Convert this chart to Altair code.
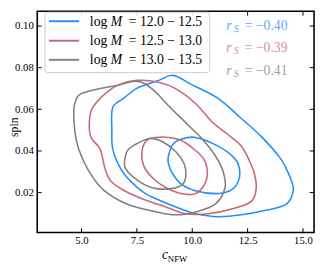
import altair as alt
import pandas as pd

# ---------------- data ----------------
group_labels = ["12.0 − 12.5", "12.5 − 13.0", "13.0 − 13.5"]
group_colors = ["#1e90ff", "#cc6677", "#808080"]
rs_values = ["= −0.40", "= −0.39", "= −0.41"]

x_ticks = [5.0, 7.5, 10.0, 12.5, 15.0]
y_ticks = [0.02, 0.04, 0.06, 0.08, 0.10]

# log M = 12.0-12.5 (blue)
blue_outer_c = [6.41, 6.94, 7.51, 8.48, 9.14, 9.93, 11.12, 12.14, 13.11, 13.99, 14.43, 14.56,
                14.25, 13.37, 12.22, 11.17, 10.15, 9.49, 8.52, 7.82, 7.20, 6.76, 6.41, 6.37]
blue_outer_s = [0.0609, 0.0656, 0.0702, 0.0739, 0.0763, 0.0721, 0.0656, 0.0563, 0.0470, 0.0363, 0.0270, 0.0209,
                0.0144, 0.0116, 0.0093, 0.0084, 0.0098, 0.0121, 0.0163, 0.0200, 0.0256, 0.0316, 0.0409, 0.0502]
blue_inner_c = [8.92, 9.10, 9.49, 10.15, 11.17, 11.92, 12.14, 12.05, 11.70, 11.04, 10.15, 9.49, 9.10, 8.92]
blue_inner_s = [0.0372, 0.0428, 0.0456, 0.0465, 0.0423, 0.0363, 0.0307, 0.0247, 0.0209, 0.0195, 0.0209, 0.0242, 0.0293, 0.0340]

# log M = 12.5-13.0 (red)
red_outer_c = [5.35, 5.44, 5.75, 6.06, 6.63, 7.51, 8.48, 9.27, 10.15, 10.90, 11.61, 12.22, 12.58, 12.80,
               12.89, 12.67, 11.78, 10.73, 9.71, 8.83, 7.82, 6.94, 6.32, 6.06, 5.84, 5.45]
red_outer_s = [0.0516, 0.0595, 0.0642, 0.0674, 0.0716, 0.0739, 0.0730, 0.0698, 0.0628, 0.0539, 0.0479, 0.0423, 0.0353, 0.0293,
               0.0223, 0.0158, 0.0121, 0.0098, 0.0098, 0.0130, 0.0167, 0.0209, 0.0256, 0.0316, 0.0409, 0.0460]
red_inner_c = [7.73, 7.95, 8.39, 8.92, 9.49, 10.07, 10.51, 10.68, 10.59, 10.15, 9.49, 8.83, 8.26, 7.82]
red_inner_s = [0.0400, 0.0451, 0.0465, 0.0465, 0.0451, 0.0409, 0.0363, 0.0307, 0.0247, 0.0195, 0.0195, 0.0223, 0.0265, 0.0326]

# log M = 13.0-13.5 (grey)
grey_outer_c = [4.65, 4.74, 4.96, 5.75, 6.63, 7.38, 7.82, 8.39, 8.83, 9.71, 10.46, 11.04, 11.39, 11.48,
                11.04, 10.15, 9.27, 8.39, 7.07, 5.97, 5.31, 4.87, 4.69]
grey_outer_s = [0.0595, 0.0642, 0.0674, 0.0698, 0.0716, 0.0735, 0.0725, 0.0679, 0.0628, 0.0535, 0.0456, 0.0377, 0.0302, 0.0223,
                0.0144, 0.0107, 0.0093, 0.0107, 0.0144, 0.0214, 0.0307, 0.0409, 0.0502]
grey_inner_c = [6.94, 7.07, 7.38, 8.08, 8.70, 9.27, 9.63, 9.71, 9.54, 9.05, 8.39, 7.86, 7.29, 6.98]
grey_inner_s = [0.0349, 0.0400, 0.0428, 0.0460, 0.0442, 0.0395, 0.0340, 0.0279, 0.0237, 0.0219, 0.0219, 0.0237, 0.0279, 0.0316]

contours = [
    (0, "b_out", blue_outer_c, blue_outer_s),
    (0, "b_in", blue_inner_c, blue_inner_s),
    (1, "r_out", red_outer_c, red_outer_s),
    (1, "r_in", red_inner_c, red_inner_s),
    (2, "g_out", grey_outer_c, grey_outer_s),
    (2, "g_in", grey_inner_c, grey_inner_s),
]

rows = []
for g, cid, cs, ss in contours:
    for i, (c, s) in enumerate(zip(cs, ss)):
        rows.append({"group": group_labels[g], "cid": cid, "idx": i, "c": c, "spin": s})
df = pd.DataFrame(rows)

W, H = 284, 227
FONT = "Liberation Serif"
TL = 4.5  # tick length

xscale = alt.Scale(domain=[3.0, 15.5], nice=False, zero=False)
yscale = alt.Scale(domain=[0.0008, 0.1071], nice=False, zero=False)

xaxis = alt.Axis(values=x_ticks, format=".1f", title=None, labelPadding=2, labelFontSize=11,
                 ticks=False, tickSize=0, domain=False, grid=False)
yaxis = alt.Axis(values=y_ticks, format=".2f", title=None, labelPadding=4, labelFontSize=11,
                 ticks=False, tickSize=0, domain=False, grid=False)

lines = alt.Chart(df).mark_line(interpolate="cardinal-closed", strokeWidth=1.6).encode(
    x=alt.X("c:Q", scale=xscale, axis=xaxis),
    y=alt.Y("spin:Q", scale=yscale, axis=yaxis),
    color=alt.Color("group:N", scale=alt.Scale(domain=group_labels, range=group_colors), legend=None),
    detail="cid:N",
    order="idx:Q",
)

xt = pd.DataFrame({"c": x_ticks})
yt = pd.DataFrame({"spin": y_ticks})
tick_bottom = alt.Chart(xt).mark_rule(color="black", strokeWidth=1).encode(
    x=alt.X("c:Q", axis=xaxis), y=alt.value(H), y2=alt.value(H - TL))
tick_top = alt.Chart(xt).mark_rule(color="black", strokeWidth=1).encode(
    x=alt.X("c:Q", axis=xaxis), y=alt.value(0), y2=alt.value(TL))
tick_left = alt.Chart(yt).mark_rule(color="black", strokeWidth=1).encode(
    y=alt.Y("spin:Q", axis=yaxis), x=alt.value(0), x2=alt.value(TL))
tick_right = alt.Chart(yt).mark_rule(color="black", strokeWidth=1).encode(
    y=alt.Y("spin:Q", axis=yaxis), x=alt.value(W), x2=alt.value(W - TL))

one = pd.DataFrame({"a": [0]})

legend_box = alt.Chart(one).mark_rect(fill="white", fillOpacity=0.85, stroke="#cccccc",
                                      strokeWidth=1, cornerRadius=3).encode(
    x=alt.value(8), x2=alt.value(177), y=alt.value(1), y2=alt.value(63))

layers = [lines, tick_bottom, tick_top, tick_left, tick_right, legend_box]

leg_base = [14.7, 34.7, 54.3]
rs_base = [18.7, 41.3, 65.3]
for i in range(3):
    col = group_colors[i]
    layers.append(alt.Chart(one).mark_rule(color=col, strokeWidth=2).encode(
        x=alt.value(12), x2=alt.value(43), y=alt.value(leg_base[i] - 4.5)))
    layers.append(alt.Chart(one).mark_text(font=FONT, fontSize=14, align="left", baseline="alphabetic",
                                           color="black", text="log").encode(
        x=alt.value(54), y=alt.value(leg_base[i])))
    layers.append(alt.Chart(one).mark_text(font=FONT, fontSize=14, fontStyle="italic", align="left",
                                           baseline="alphabetic", color="black", text="M").encode(
        x=alt.value(75.5), y=alt.value(leg_base[i])))
    layers.append(alt.Chart(one).mark_text(font=FONT, fontSize=14, align="left", baseline="alphabetic",
                                           color="black", text="= " + group_labels[i]).encode(
        x=alt.value(94), y=alt.value(leg_base[i])))
    # r_S annotation
    layers.append(alt.Chart(one).mark_text(font=FONT, fontSize=14, fontStyle="italic", align="left",
                                           baseline="alphabetic", color=col, opacity=0.75, text="r").encode(
        x=alt.value(194), y=alt.value(rs_base[i])))
    layers.append(alt.Chart(one).mark_text(font=FONT, fontSize=10, fontStyle="italic", align="left",
                                           baseline="alphabetic", color=col, opacity=0.75, text="S").encode(
        x=alt.value(201.5), y=alt.value(rs_base[i] + 2.5)))
    layers.append(alt.Chart(one).mark_text(font=FONT, fontSize=14, align="left", baseline="alphabetic",
                                           color=col, opacity=0.75, text=rs_values[i]).encode(
        x=alt.value(213), y=alt.value(rs_base[i])))

# axis titles
layers.append(alt.Chart(one).mark_text(font=FONT, fontSize=14, fontStyle="italic", align="left",
                                       baseline="alphabetic", color="black", text="c").encode(
    x=alt.value(128), y=alt.value(254)))
layers.append(alt.Chart(one).mark_text(font=FONT, fontSize=9, align="left",
                                       baseline="alphabetic", color="black", text="NFW").encode(
    x=alt.value(134), y=alt.value(257)))
layers.append(alt.Chart(one).mark_text(font=FONT, fontSize=12, align="center", angle=270,
                                       baseline="alphabetic", color="black", text="spin").encode(
    x=alt.value(-20), y=alt.value(119)))

chart = alt.layer(*layers).properties(
    width=W, height=H,
    padding={"left": 30, "top": 0, "right": 2, "bottom": 32},
    autosize=alt.AutoSizeParams(type="none"),
).configure_view(stroke="black", strokeWidth=1.6).configure_axis(
    labelFont=FONT, labelColor="black",
)

chart.save("out.html", embed_options={"renderer": "svg", "actions": False})
